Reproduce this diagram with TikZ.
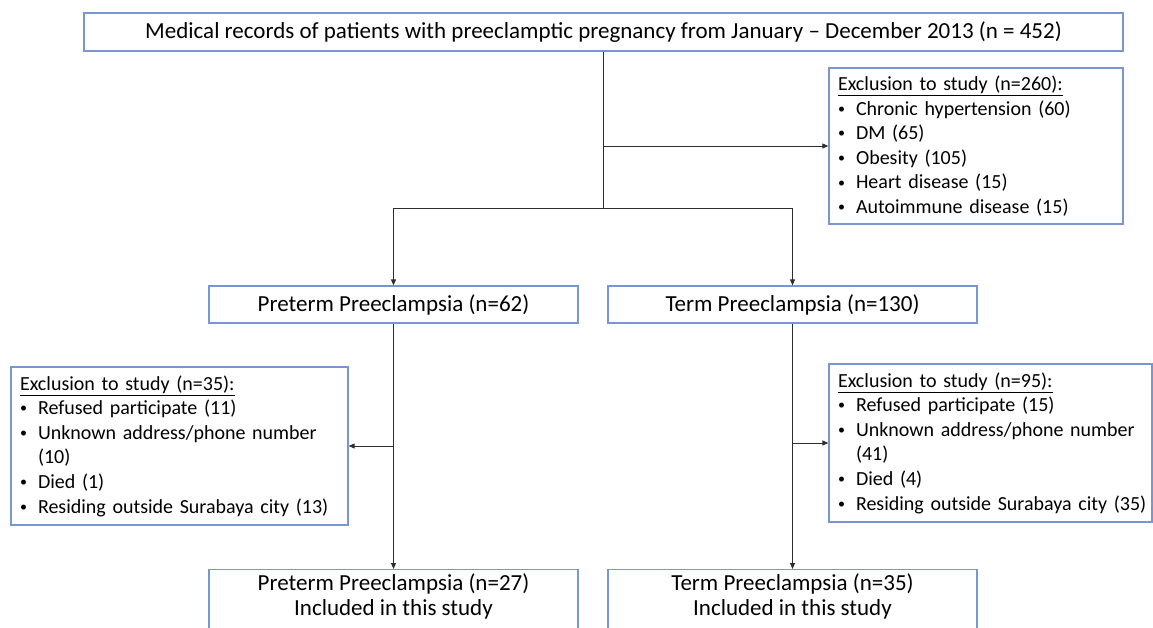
\documentclass[tikz,border=0pt]{standalone}
\usepackage{fontspec}
\setmainfont{Carlito}
\usetikzlibrary{arrows.meta}
\definecolor{boxblue}{RGB}{120,150,212}
\definecolor{linegray}{RGB}{45,45,45}
\tikzset{
  stagebox/.style={draw=boxblue, line width=1.3pt, fill=white, inner sep=0pt,
    font=\fontsize{23}{25}\selectfont, align=center},
  exclbox/.style={draw=boxblue, line width=1.3pt, fill=white, inner xsep=9pt, inner ysep=0pt,
    font=\fontsize{20}{24.6}\selectfont, align=left},
  conn/.style={draw=linegray, line width=0.9pt},
  arr/.style={conn, -{Triangle[length=6pt,width=5pt]}}
}
\newcommand{\smallbullet}{\raisebox{1.8pt}{\fontsize{14}{14}\selectfont •}}
\newcommand{\bitem}[1]{\mbox{\makebox[18pt][l]{\smallbullet}#1}}
\newcommand{\twolines}[2]{\parbox[t][80pt][t]{369pt}{\centering\strut #1\\ #2}}
\begin{document}
\begin{tikzpicture}[x=1pt,y=-1pt]
\useasboundingbox (0,0) rectangle (1153,627);
\clip (0,0) rectangle (1153,627);
\fill[white] (0,0) rectangle (1153,627);

\node[stagebox, minimum width=1039pt, minimum height=38pt] (top) at (603.5,32)
  {Medical records of patients with preeclamptic pregnancy from January – December 2013 (n = 452)};

\node[exclbox, minimum width=294pt, minimum height=156pt, text width=276pt] (excl1) at (976,146)
  {\underline{Exclusion to study (n=260):}\\
   \bitem{Chronic hypertension (60)}\\
   \bitem{DM (65)}\\
   \bitem{Obesity (105)}\\
   \bitem{Heart disease (15)}\\
   \bitem{Autoimmune disease (15)}};

\node[stagebox, minimum width=369pt, minimum height=37pt] (pre) at (393.5,304.5)
  {Preterm Preeclampsia (n=62)};
\node[stagebox, minimum width=369pt, minimum height=37pt] (term) at (792.5,304.5)
  {Term Preeclampsia (n=130)};

\node[exclbox, minimum width=337pt, minimum height=158pt, text width=319pt] (excl2) at (179.5,446)
  {\underline{Exclusion to study (n=35):}\\
   \bitem{Refused participate (11)}\\
   \bitem{Unknown address/phone number}\\
   \hspace*{18pt}(10)\\
   \bitem{Died (1)}\\
   \bitem{Residing outside Surabaya city (13)}};

\node[exclbox, minimum width=323pt, minimum height=158pt, text width=305pt] (excl3) at (990.5,443)
  {\underline{Exclusion to study (n=95):}\\
   \bitem{Refused participate (15)}\\
   \bitem{Unknown address/phone number}\\
   \hspace*{18pt}(41)\\
   \bitem{Died (4)}\\
   \bitem{Residing outside Surabaya city (35)}};

\node[stagebox, anchor=north, inner ysep=3.5pt] (preIn) at (393.5,569)
  {\twolines{Preterm Preeclampsia (n=27)}{Included in this study}};
\node[stagebox, anchor=north, inner ysep=3.5pt] (termIn) at (792.5,569)
  {\twolines{Term Preeclampsia (n=35)}{Included in this study}};

\coordinate (j1) at (top.south |- 0,208);
\coordinate (b1) at (top.south |- excl1.west);
\coordinate (b2) at (pre.south |- excl2.east);
\coordinate (b3) at (term.south |- excl3.west);

\draw[conn] (top.south) -- (j1);
\draw[arr] (b1) -- (excl1.west);
\draw[arr] (j1) -| (pre.north);
\draw[arr] (j1) -| (term.north);
\draw[arr] (pre.south) -- (preIn.north);
\draw[arr] (b2) -- (excl2.east);
\draw[arr] (term.south) -- (termIn.north);
\draw[arr] (b3) -- (excl3.west);
\end{tikzpicture}
\end{document}
